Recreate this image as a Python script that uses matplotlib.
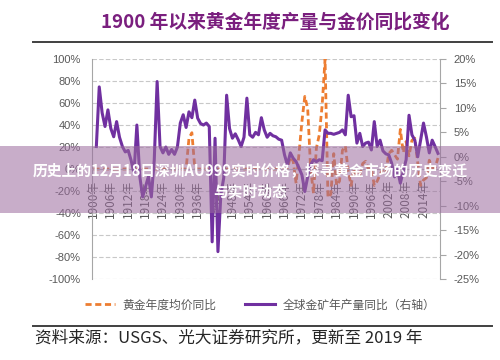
import numpy as np
import matplotlib
matplotlib.use("Agg")
import matplotlib.pyplot as plt
from matplotlib.lines import Line2D
from matplotlib.patches import Rectangle

plt.rcParams['font.family'] = ['Noto Sans CJK SC', 'DejaVu Sans']

# categories: one point per year
years = list(range(1900, 2020))

# global gold mine output, yoy % (right axis)
prod_yoy = [
    np.nan, 2.1, 14.3, 9.0, 6.2, 9.6, 5.8, 4.1, 7.2, 4.0,      # 1900s
    2.1, 1.0, 1.3, -0.7, -3.4, 6.5, -4.0, -8.2, -6.1, -4.0,    # 1910s
    -8.2, -0.7, 15.4, 2.1, 0.8, 2.0, 0.5, 1.5, 0.5, 2.0,       # 1920s
    6.9, 8.6, 6.0, 9.2, 8.0, 11.6, 7.9, 6.8, 6.5, 6.9,         # 1930s
    6.2, -17.4, 3.8, -19.4, -7.8, -4.3, 12.6, 5.8, 3.8, 4.7,   # 1940s
    3.5, 2.1, 4.0, 12.0, 4.5, 4.0, 5.0, 4.5, 8.0, 5.5,         # 1950s
    4.0, 4.8, 4.3, 4.1, 3.6, 3.4, 0.4, -1.7, 0.8, -0.3,        # 1960s
    -1.0, -2.3, -3.7, -7.1, -4.1, -1.7, -0.6, -1.0, -0.6, -0.8,  # 1970s
    5.5, 4.8, 4.8, 4.6, 4.8, 5.0, 5.5, 4.5, 12.6, 8.2,         # 1980s
    8.4, 2.8, 4.8, 2.1, 2.8, 3.0, 1.4, 7.2, 2.1, 3.4,          # 1990s
    1.2, 0.6, 0.4, -1.3, -4.1, -2.5, -5.4, -3.0, -0.6, 8.5,    # 2000s
    4.5, 3.4, 0.0, 3.4, 6.9, 4.1, 0.8, 3.4, 2.1, 0.7,          # 2010s
]

# annual average gold price, yoy % (left axis)
price_yoy = [
    0, 0, 0, 0, 0, 0, 0, 0, 0, 0,
    0, 0, 0, 0, 0, 0, 0, 0, 0, 0,
    0, 0, 0, 0, 0, 0, 0, 0, 0, 0,
    0, 0, 0, 28, 33, 1, 0, 0, 0, 0,
    0, 0, 0, 0, 0, 0, 0, 0, 0, 0,
    0, 0, 0, 0, 0, 0, 0, 0, 0, 0,
    0, 0, 0, 0, 0, 0, 0, 0, 11, 7,
    -13, 14, 43, 66, 55, 1, -22, 19, 31, 58,
    100, -26, -23, 14, -15, -11, 17, 21, -2, -15,
    1, -6, -5, 5, 7, 0, 1, -15, -11, -5,
    0, -3, 14, 17, 13, 9, 36, 15, 25, 12,
    26, 28, 6, -15, -10, -8, 8, 1, 1, 10,
]

tick_years = years[::6]
tick_labels = [f"{y}年" for y in tick_years]

title = "1900 年以来黄金年度产量与金价同比变化"
banner = ["历史上的12月18日深圳AU999实时价格，探寻黄金市场的历史变迁", "与实时动态"]
legend_labels = ["黄金年度均价同比", "全球金矿年产量同比（右轴）"]
source = "资料来源：USGS、光大证券研究所，更新至 2019 年"

GRAY = '#595959'

fig = plt.figure(figsize=(5, 3.6), dpi=100)
ax = fig.add_axes([0.184, 0.225, 0.696, 0.611])
ax2 = ax.twinx()

l1, = ax.plot(years, price_yoy, color='#ED7D31', lw=2, ls=(0, (2.2, 1.3)))
l2, = ax2.plot(years, prod_yoy, color='#7030A0', lw=2.2)

ax.set_xlim(1899.5, 2019.7)
ax.set_ylim(-100, 100)
ax.set_yticks(range(-100, 101, 20))
ax.set_yticklabels([f"{v}%" for v in range(-100, 101, 20)], family='Liberation Sans')
ax2.set_ylim(-25, 20)
ax2.set_yticks(range(-25, 21, 5))
ax2.set_yticklabels([f"{v}%" for v in range(-25, 21, 5)], family='Liberation Sans')

ax.set_xticks(tick_years)
ax.set_xticklabels(tick_labels)
ax.spines['bottom'].set_position(('data', 0))
ax.spines['bottom'].set_color('#BFBFBF')
ax.spines['top'].set_visible(False)
ax.spines['right'].set_visible(False)
ax.spines['left'].set_color('#A6A6A6')
ax.tick_params(axis='x', length=0, pad=8, labelrotation=90, labelsize=8.5, labelcolor=GRAY)
ax.tick_params(axis='y', length=0, pad=8, labelsize=8, labelcolor=GRAY)

for s in ['top', 'bottom', 'left']:
    ax2.spines[s].set_visible(False)
ax2.spines['right'].set_color('#A6A6A6')
ax2.tick_params(axis='y', length=4, color='#A6A6A6', pad=6, labelsize=8, labelcolor=GRAY)

ax.yaxis.grid(True, color='#C8C8C8', ls=(0, (4, 2)), lw=0.8)
ax.set_axisbelow(True)

# title and rules
fig.text(0.55, 1 - 22 / 360, title, ha='center', va='center', fontsize=13.5,
         weight='bold', color='#7A1F7E')
fig.add_artist(Line2D([0.066, 0.984], [1 - 42 / 360] * 2, transform=fig.transFigure,
                      color='#404040', lw=1.4))
fig.add_artist(Line2D([0.066, 0.984], [1 - 326 / 360] * 2, transform=fig.transFigure,
                      color='#404040', lw=1.4))

fig.legend(handles=[l1, l2], labels=legend_labels, loc='center',
           bbox_to_anchor=(0.52, 1 - 305 / 360), ncol=2, frameon=False,
           fontsize=8.5, handlelength=2.6, columnspacing=2.4, handletextpad=0.6,
           labelcolor=GRAY)

fig.text(0.07, 1 - 338 / 360, source, ha='left', va='center', fontsize=12, color='#262626')

# translucent banner on top
fig.add_artist(Rectangle((0, 1 - 213 / 360), 1, 67 / 360, transform=fig.transFigure,
                         facecolor='#9B6B9E', alpha=0.55, lw=0, zorder=10))
fig.text(0.5, 1 - 170 / 360, banner[0], ha='center', va='center', fontsize=10.6,
         weight='bold', color='white', zorder=11)
fig.text(0.5, 1 - 192 / 360, banner[1], ha='center', va='center', fontsize=10.6,
         weight='bold', color='white', zorder=11)

fig.savefig("out.png", dpi=100)
